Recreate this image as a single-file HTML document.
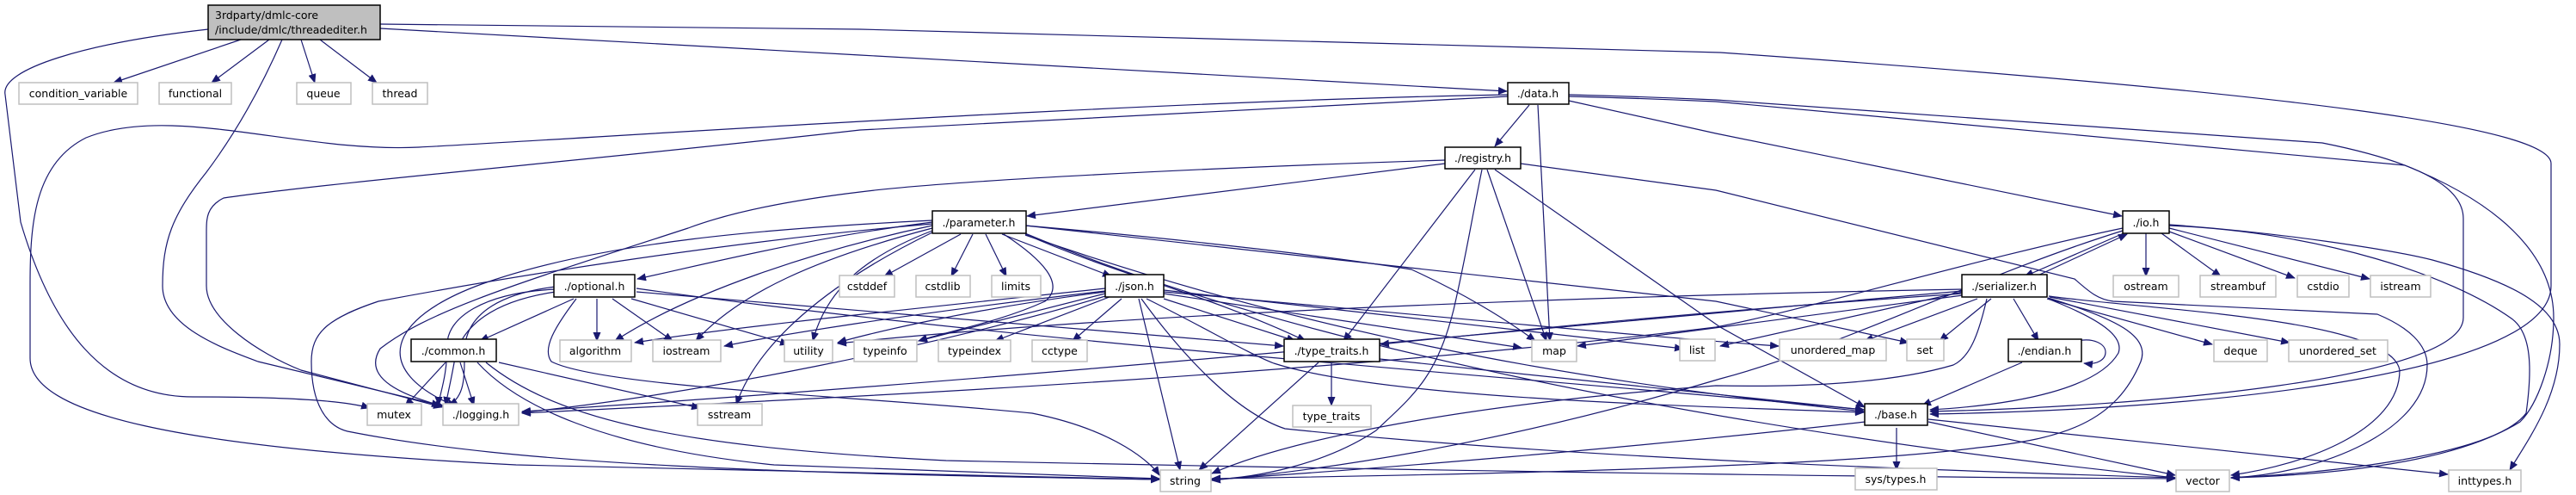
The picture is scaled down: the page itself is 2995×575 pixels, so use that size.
<!DOCTYPE html>
<html><head><meta charset="utf-8"><style>
html,body{margin:0;padding:0;background:#fff;}
svg{display:block;}
text{font-family:"DejaVu Sans","Liberation Sans",sans-serif;font-size:12.5px;fill:#000;}
.e{fill:none;stroke:#191970;stroke-width:1.2;}
.x{fill:#fff;stroke:#bfbfbf;stroke-width:1.5;}
.i{fill:#fff;stroke:#000;stroke-width:1.5;}
</style></head><body>
<svg width="2995" height="575" viewBox="0 0 2995 575" xmlns="http://www.w3.org/2000/svg">
<defs><marker id="a" markerWidth="11" markerHeight="9" refX="10" refY="4.5" orient="auto" markerUnits="userSpaceOnUse"><path d="M0,0L11,4.5L0,9z" fill="#191970"/></marker></defs>
<g marker-end="url(#a)">
<!-- root -->
<path class="e" d="M280,46 L132,96"/>
<path class="e" d="M313,46 L246,96"/>
<path class="e" d="M350,46 L366,96"/>
<path class="e" d="M372,46 L438,96"/>
<path class="e" d="M328,46 C300,110 270,160 240,200 C200,250 189,280 189,332 C189,380 260,405 300,420 L512,471"/>
<path class="e" d="M242,34 C100,50 0,80 6,110 L24,258 C60,380 120,461 224,461 C330,461 400,465 430,474"/>
<path class="e" d="M442,33 L1000,64 L1752,106"/>
<path class="e" d="M442,28 L1000,34 L2000,61 C2700,110 2966,150 2966,190 L2966,332 C2966,430 2600,475 2244,481"/>
<!-- data.h -->
<path class="e" d="M1824,110 C1900,112 1950,114 1995,116 L2700,166 C2820,190 2864,220 2864,254 L2864,369 C2864,440 2500,472 2244,478"/>
<path class="e" d="M1824,112 C1900,114 1950,116 1995,118 L2796,192 C2940,250 2969,320 2969,369 C2969,420 2950,470 2930,490 C2850,540 2700,552 2594,555"/>
<path class="e" d="M1824,117 L1995,155 L2467,251"/>
<path class="e" d="M1778,122 L1738,170"/>
<path class="e" d="M1788,122 L1802,396"/>
<path class="e" d="M1753,110 C1300,118 700,160 487,171 C350,178 200,120 100,160 C40,190 35,260 35,330 L35,416 C35,480 200,520 600,540 L1348,557"/>
<path class="e" d="M1753,112 C1400,130 1100,145 1000,151 C700,185 400,210 260,230 C240,240 240,254 240,270 L240,332 C240,370 300,410 350,430 L514,473"/>
<!-- registry.h -->
<path class="e" d="M1680,190 L1194,251"/>
<path class="e" d="M1680,186 C1400,195 1100,210 1000,223 C900,235 840,250 800,265 C600,330 500,360 442,405 C420,440 470,460 516,472"/>
<path class="e" d="M1715,197 L1562,396"/>
<path class="e" d="M1723,197 C1710,260 1705,295 1690,360 C1670,440 1641,461 1600,500 C1540,540 1460,555 1409,557"/>
<path class="e" d="M1729,197 L1798,396"/>
<path class="e" d="M1738,197 L2000,380 L2168,473"/>
<path class="e" d="M1768,190 L1995,221 L2412,324 C2430,340 2440,348 2457,350 L2764,365 C2800,380 2822,400 2822,424 C2822,500 2700,550 2594,555"/>
<!-- parameter.h -->
<path class="e" d="M1117,272 L1028,321"/>
<path class="e" d="M1131,272 L1106,321"/>
<path class="e" d="M1146,272 L1170,321"/>
<path class="e" d="M1165,272 L1292,321"/>
<path class="e" d="M1167,272 C1210,300 1240,330 1215,350 C1160,375 1100,385 1068,396"/>
<path class="e" d="M1192,272 C1300,320 1400,340 1518,396"/>
<path class="e" d="M1192,262 C1400,280 1560,300 1641,313 C1700,340 1750,370 1785,396"/>
<path class="e" d="M1192,262 L1995,350 L2219,398"/>
<path class="e" d="M1192,273 C1500,380 1800,440 2167,478"/>
<path class="e" d="M1192,271 C1500,400 2000,500 2529,555"/>
<path class="e" d="M1084,258 C950,275 850,300 741,324"/>
<path class="e" d="M1084,262 C950,290 800,340 715,396"/>
<path class="e" d="M1084,265 C950,300 860,340 809,396"/>
<path class="e" d="M1084,268 C1000,300 960,340 945,396"/>
<path class="e" d="M1084,270 C960,330 880,400 856,470"/>
<path class="e" d="M1084,256 C900,265 700,280 560,330 C450,370 430,430 530,472"/>
<path class="e" d="M1084,260 C850,280 600,320 440,350 C380,370 362,387 362,420 C362,470 380,495 404,501 C600,540 900,550 1348,557"/>
<!-- json.h -->
<path class="e" d="M1285,341 L1068,396"/>
<path class="e" d="M1295,343 L1157,396"/>
<path class="e" d="M1304,347 L1247,396"/>
<path class="e" d="M1324,347 L1372,546"/>
<path class="e" d="M1353,347 L1506,396"/>
<path class="e" d="M1353,341 L1769,404"/>
<path class="e" d="M1353,337 L1957,405"/>
<path class="e" d="M1353,339 C1700,370 1900,390 2068,402"/>
<path class="e" d="M1333,347 C1400,380 1450,410 1481,422 C1600,460 1900,470 2167,479"/>
<path class="e" d="M1327,347 C1380,420 1440,480 1494,498 C1800,530 2200,545 2529,555"/>
<path class="e" d="M1285,344 C1100,400 800,460 607,479"/>
<path class="e" d="M1285,335 C1050,360 850,380 738,398"/>
<path class="e" d="M1285,338 C1050,365 900,390 842,402"/>
<path class="e" d="M1285,339 C1120,360 1000,390 974,398"/>
<!-- optional.h -->
<path class="e" d="M667,347 L558,396"/>
<path class="e" d="M694,347 L694,396"/>
<path class="e" d="M712,347 L782,396"/>
<path class="e" d="M734,347 L917,400"/>
<path class="e" d="M646,336 C560,340 520,370 520,400 C520,440 510,460 510,471"/>
<path class="e" d="M646,339 C570,350 540,380 530,410 C525,440 520,460 518,471"/>
<path class="e" d="M646,333 C590,340 540,360 540,410 C540,440 540,460 522,471"/>
<path class="e" d="M670,347 C645,380 630,405 641,420 C700,450 1000,460 1200,480 C1300,500 1340,540 1348,552"/>
<path class="e" d="M740,339 L1492,402"/>
<path class="e" d="M740,335 C1200,400 1800,440 2167,476"/>
<!-- common.h -->
<path class="e" d="M518,421 L471,472"/>
<path class="e" d="M535,421 L551,471"/>
<path class="e" d="M580,421 L814,474"/>
<path class="e" d="M555,421 C600,470 700,520 900,540 L1348,556"/>
<path class="e" d="M565,421 C650,490 800,520 1100,535 C1800,550 2300,555 2529,556"/>
<!-- type_traits.h -->
<path class="e" d="M1548,421 L1548,471"/>
<path class="e" d="M1533,421 L1394,546"/>
<path class="e" d="M1604,417 L2167,476"/>
<!-- io.h -->
<path class="e" d="M2495,271 L2495,321"/>
<path class="e" d="M2513,271 L2582,321"/>
<path class="e" d="M2522,269 L2668,323"/>
<path class="e" d="M2522,265 L2755,324"/>
<path class="e" d="M2469,271 L2354,321"/>
<path class="e" d="M2367,321 L2473,272"/>
<path class="e" d="M2522,261 C2650,270 2780,290 2828,302 C2930,330 2976,360 2976,400 C2976,460 2940,510 2918,546"/>
<path class="e" d="M2522,262 C2700,270 2850,320 2920,370 C2944,387 2944,430 2937,480 C2900,530 2700,550 2594,555"/>
<path class="e" d="M2468,265 C2300,300 2100,360 1995,380 C1500,440 900,465 607,480"/>
<path class="e" d="M2468,268 C2300,320 2150,400 2000,440 C1800,500 1600,540 1409,558"/>
<!-- serializer.h -->
<path class="e" d="M2299,347 L2168,396"/>
<path class="e" d="M2315,347 L2255,396"/>
<path class="e" d="M2341,347 L2370,396"/>
<path class="e" d="M2380,347 L2572,400"/>
<path class="e" d="M2383,345 L2662,398"/>
<path class="e" d="M2381,347 C2440,370 2470,390 2463,410 C2440,450 2350,470 2244,476"/>
<path class="e" d="M2381,346 C2460,370 2500,390 2489,420 C2460,490 2400,510 2300,520 C2150,540 1800,550 1409,556"/>
<path class="e" d="M2310,347 C2300,390 2290,415 2271,424 C2200,445 2100,450 1995,448 C1700,470 1500,510 1409,550"/>
<path class="e" d="M2282,339 L2000,402"/>
<path class="e" d="M2282,343 L1834,402"/>
<path class="e" d="M2282,336 C1800,345 1300,365 974,399"/>
<path class="e" d="M2282,341 C2000,360 1800,380 1605,400"/>
<path class="e" d="M2282,338 C1800,380 1200,440 607,478"/>
<path class="e" d="M2382,344 C2500,360 2780,370 2790,430 C2790,500 2680,540 2594,552"/>
<!-- endian.h -->
<path class="e" d="M2415,396 C2435,392 2448,400 2448,409 C2448,418 2438,424 2423,422"/>
<path class="e" d="M2351,421 L2235,471"/>
<!-- base.h -->
<path class="e" d="M2205,497 L2205,546"/>
<path class="e" d="M2169,490 C1900,520 1600,545 1409,557"/>
<path class="e" d="M2242,490 L2529,552"/>
<path class="e" d="M2242,487 L2846,551"/>
</g>
<!-- nodes -->
<rect x="242" y="6" width="200" height="40" fill="#bfbfbf" stroke="#000" stroke-width="1.5"/>
<text x="250" y="22">3rdparty/dmlc-core</text>
<text x="250" y="39">/include/dmlc/threadediter.h</text>
<g>
<rect class="x" x="22" y="96" width="138" height="25"/><text x="91" y="113" text-anchor="middle">condition_variable</text>
<rect class="x" x="185" y="96" width="84" height="25"/><text x="227" y="113" text-anchor="middle">functional</text>
<rect class="x" x="345" y="96" width="63" height="25"/><text x="376" y="113" text-anchor="middle">queue</text>
<rect class="x" x="433" y="96" width="64" height="25"/><text x="465" y="113" text-anchor="middle">thread</text>
<rect class="i" x="1753" y="96" width="71" height="25"/><text x="1788" y="113" text-anchor="middle">./data.h</text>
<rect class="i" x="1680" y="171" width="88" height="25"/><text x="1724" y="188" text-anchor="middle">./registry.h</text>
<rect class="i" x="1084" y="245" width="109" height="26"/><text x="1138" y="263" text-anchor="middle">./parameter.h</text>
<rect class="i" x="2468" y="245" width="54" height="26"/><text x="2495" y="263" text-anchor="middle">./io.h</text>
<rect class="i" x="644" y="319" width="94" height="26"/><text x="691" y="337" text-anchor="middle">./optional.h</text>
<rect class="x" x="976" y="320" width="64" height="25"/><text x="1008" y="337" text-anchor="middle">cstddef</text>
<rect class="x" x="1065" y="320" width="63" height="25"/><text x="1096" y="337" text-anchor="middle">cstdlib</text>
<rect class="x" x="1153" y="320" width="57" height="25"/><text x="1181" y="337" text-anchor="middle">limits</text>
<rect class="i" x="1285" y="319" width="68" height="26"/><text x="1319" y="337" text-anchor="middle">./json.h</text>
<rect class="i" x="2281" y="319" width="99" height="26"/><text x="2330" y="337" text-anchor="middle">./serializer.h</text>
<rect class="x" x="2457" y="320" width="76" height="25"/><text x="2495" y="337" text-anchor="middle">ostream</text>
<rect class="x" x="2558" y="320" width="88" height="25"/><text x="2602" y="337" text-anchor="middle">streambuf</text>
<rect class="x" x="2671" y="320" width="60" height="25"/><text x="2701" y="337" text-anchor="middle">cstdio</text>
<rect class="x" x="2756" y="320" width="70" height="25"/><text x="2791" y="337" text-anchor="middle">istream</text>
<rect class="i" x="478" y="394" width="99" height="26"/><text x="527" y="412" text-anchor="middle">./common.h</text>
<rect class="x" x="651" y="395" width="83" height="25"/><text x="692" y="412" text-anchor="middle">algorithm</text>
<rect class="x" x="759" y="395" width="79" height="25"/><text x="798" y="412" text-anchor="middle">iostream</text>
<rect class="x" x="912" y="395" width="56" height="25"/><text x="940" y="412" text-anchor="middle">utility</text>
<rect class="x" x="993" y="395" width="73" height="25"/><text x="1029" y="412" text-anchor="middle">typeinfo</text>
<rect class="x" x="1091" y="395" width="84" height="25"/><text x="1133" y="412" text-anchor="middle">typeindex</text>
<rect class="x" x="1200" y="395" width="64" height="25"/><text x="1232" y="412" text-anchor="middle">cctype</text>
<rect class="i" x="1493" y="394" width="111" height="26"/><text x="1548" y="412" text-anchor="middle">./type_traits.h</text>
<rect class="x" x="1781" y="395" width="52" height="25"/><text x="1807" y="412" text-anchor="middle">map</text>
<rect class="x" x="1953" y="394" width="41" height="25"/><text x="1973" y="411" text-anchor="middle">list</text>
<rect class="x" x="2069" y="394" width="124" height="25"/><text x="2131" y="411" text-anchor="middle">unordered_map</text>
<rect class="x" x="2217" y="394" width="43" height="25"/><text x="2238" y="411" text-anchor="middle">set</text>
<rect class="i" x="2335" y="394" width="85" height="26"/><text x="2377" y="412" text-anchor="middle">./endian.h</text>
<rect class="x" x="2574" y="395" width="62" height="25"/><text x="2605" y="412" text-anchor="middle">deque</text>
<rect class="x" x="2661" y="395" width="115" height="25"/><text x="2718" y="412" text-anchor="middle">unordered_set</text>
<rect class="x" x="427" y="469" width="63" height="25"/><text x="458" y="486" text-anchor="middle">mutex</text>
<rect class="x" x="515" y="469" width="88" height="25"/><text x="559" y="486" text-anchor="middle">./logging.h</text>
<rect class="x" x="811" y="469" width="75" height="25"/><text x="848" y="486" text-anchor="middle">sstream</text>
<rect class="x" x="1503" y="471" width="91" height="25"/><text x="1548" y="488" text-anchor="middle">type_traits</text>
<rect class="i" x="2168" y="469" width="73" height="25"/><text x="2204" y="486" text-anchor="middle">./base.h</text>
<rect class="x" x="1349" y="546" width="59" height="25"/><text x="1378" y="563" text-anchor="middle">string</text>
<rect class="x" x="2157" y="544" width="95" height="25"/><text x="2204" y="561" text-anchor="middle">sys/types.h</text>
<rect class="x" x="2530" y="546" width="62" height="25"/><text x="2561" y="563" text-anchor="middle">vector</text>
<rect class="x" x="2847" y="546" width="84" height="25"/><text x="2889" y="563" text-anchor="middle">inttypes.h</text>
</g>
</svg>
</body></html>
